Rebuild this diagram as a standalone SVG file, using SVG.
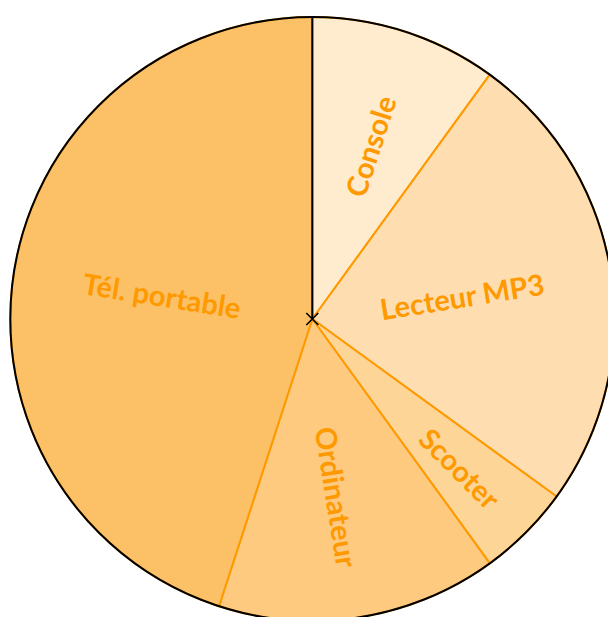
<svg xmlns="http://www.w3.org/2000/svg" width="608" height="617" viewBox="0 0 608 617">
<style>
.slice{stroke:#FF9900;stroke-width:2;stroke-linejoin:round}
.lbl{font-family:Lato,"Liberation Sans",sans-serif;font-weight:bold;font-size:29px;fill:#FF9900;text-anchor:middle;dominant-baseline:central}
</style>
<rect width="608" height="617" fill="#FFFFFF"/>
<g id="slice-console"><path class="slice" fill="#FFEBCD" d="M312.3,319 L312.3,17 A302,302 0 0 1 489.8,74.7 Z"/></g>
<g id="slice-mp3"><path class="slice" fill="#FEDEB0" d="M312.3,319 L489.8,74.7 A302,302 0 0 1 556.6,496.5 Z"/></g>
<g id="slice-scooter"><path class="slice" fill="#FDD596" d="M312.3,319 L556.6,496.5 A302,302 0 0 1 489.8,563.3 Z"/></g>
<g id="slice-ordinateur"><path class="slice" fill="#FDCA7F" d="M312.3,319 L489.8,563.3 A302,302 0 0 1 219.0,606.2 Z"/></g>
<g id="slice-tel"><path class="slice" fill="#FCC166" d="M312.3,319 L219.0,606.2 A302,302 0 0 1 312.3,17 Z"/></g>
<g id="connectors">
<circle cx="312.3" cy="319" r="302" fill="none" stroke="#000000" stroke-width="2"/>
<line x1="312.3" y1="319" x2="312.3" y2="17" stroke="#000000" stroke-width="2"/>
<path d="M306.3,313 L318.3,325 M318.3,313 L306.3,325" stroke="#000000" stroke-width="1.6" fill="none"/>
</g>
<g id="labels">
<text class="lbl" transform="translate(370,146) rotate(-72)">Console</text>
<text class="lbl" transform="translate(462,296) rotate(-9)">Lecteur MP3</text>
<text class="lbl" transform="translate(460,468) rotate(45)">Scooter</text>
<text class="lbl" transform="translate(337,497) rotate(81)">Ordinateur</text>
<text class="lbl" transform="translate(162,295) rotate(9)">Tél. portable</text>
</g>
</svg>
